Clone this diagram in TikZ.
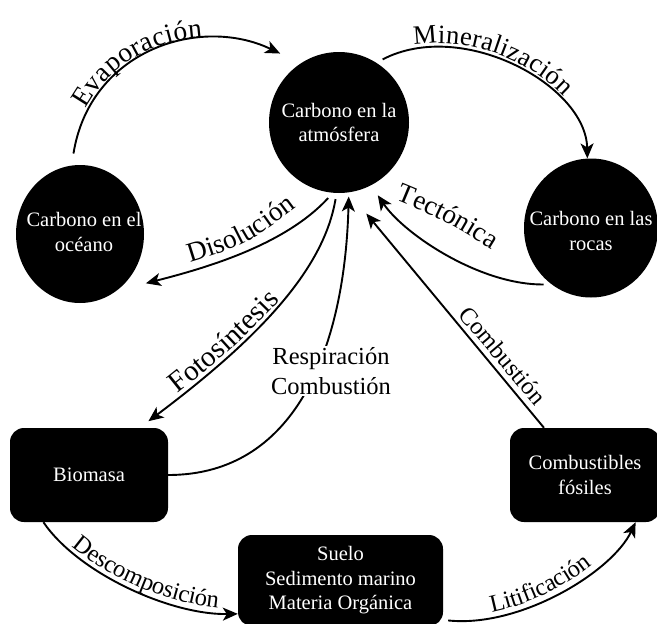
\documentclass[tikz,border=0pt]{standalone}
\usepackage{fontspec}
\setmainfont{Liberation Serif}
\usetikzlibrary{arrows.meta,shapes.geometric,decorations.text}
\newcommand\nodefont{\fontsize{20.5}{24.5}\selectfont}
\newcommand\lblfont{\fontsize{24.5}{30}\selectfont}
\newcommand\lblbig{\fontsize{27.5}{30}\selectfont}
\newcommand\lblmid{\fontsize{26.5}{30}\selectfont}
\newcommand\lblhuge{\fontsize{29}{30}\selectfont}
\begin{document}
\begin{tikzpicture}[x=1pt,y=-1pt,
  ell/.style={ellipse, fill=black, draw=none, inner sep=0pt},
  blk/.style={rectangle, rounded corners=14pt, fill=black, text=white, font=\nodefont, align=center, inner sep=0pt},
  intxt/.style={text=white, font=\nodefont, align=center, inner sep=0pt},
  flow/.style={line width=1.9pt, -{Stealth[length=15pt,width=13pt,inset=4pt]}},
]
\useasboundingbox (0,0) rectangle (657,624);

% nodes
\node[ell, minimum width=140pt, minimum height=141pt, label={[intxt]center:Carbono en la\\atmósfera}] (atm) at (339,122.5) {};
\node[ell, minimum width=128pt, minimum height=138pt, label={[intxt, xshift=4pt, yshift=2pt]center:Carbono en el\\océano}] (oce) at (80,234) {};
\node[ell, minimum width=134pt, minimum height=139pt, label={[intxt, yshift=-3pt]center:Carbono en las\\rocas}] (roc) at (591,228) {};
\node[blk, minimum width=158pt, minimum height=94pt] (bio) at (89,475) {Biomasa};
\node[blk, minimum width=150pt, minimum height=94pt] (fos) at (585,475) {Combustibles\\fósiles};
\node[blk, minimum width=205pt, minimum height=91pt] (sue) at (340.5,580.5) {Suelo\\Sedimento marino\\Materia Orgánica};

% connectors
\draw[flow, shorten <=12pt, shorten >=22.6pt] (oce.97) .. controls (90,50) and (200,15) .. (atm.123);
\draw[flow, shorten <=7pt] (atm.58) .. controls (462,18) and (586,85) .. (roc.93);
\draw[flow, shorten <=7pt, shorten >=30pt] (atm.-95) .. controls (285,245) and (206,268) .. (oce.-57);
\draw[flow, shorten <=6pt, shorten >=11pt] (atm.-92) .. controls (324,268) and (262,336) .. (bio.43);
\draw[flow, shorten >=4pt] (bio.east) .. controls (300,475) and (345,340) .. (atm.-82);
\draw[flow, shorten <=8pt, shorten >=12pt] (roc.-125) .. controls (480,285) and (404.4,234.4) .. (atm.-63.5);
\draw[flow, shorten >=27.4pt] (fos.131.8) -- (atm.-82);
\draw[flow] (bio.-134.4) .. controls (78,573) and (170,615) .. (sue.-162.9);
\draw[flow, shorten <=5pt] (sue.-21) .. controls (520,628) and (612,572) .. (fos.-43.8);

\node[fill=white, font=\lblfont, align=center, inner sep=1pt] (rc) at (331,371) {Respiración\\Combustión};

% labels along paths
\path[decorate, decoration={text along path, text={|\lblbig|Evaporación}, text align={left indent=57pt}, raise=5pt}] (oce.97) .. controls (90,50) and (200,15) .. (atm.123);
\path[decorate, decoration={text along path, text={|\lblmid|Mineralización}, text align={left indent=40pt}, raise=5pt}] (atm.58) .. controls (462,18) and (586,85) .. (roc.93);
\path[decorate, decoration={text along path, text={|\lblbig|Disolución}, text align=center}] (180,266) .. controls (245,246) .. (305,201);
\path[decorate, decoration={text along path, text={|\lblhuge|Fotosíntesis}, text align=center}] (161.4,406.5) .. controls (231,351) .. (294.6,285.5);
\path[decorate, decoration={text along path, text={|\lblbig|Tectónica}, text align=center}] (391,198) .. controls (444,220) .. (496,252);
\path[decorate, decoration={text along path, text={|\lblfont|Combustión}, text align=center}] (444.6,299.7) -- (548,421.7);
\path[decorate, decoration={text along path, text={|\lblfont|Descomposición}, text align={left indent=38pt}, raise=5pt}] (bio.-134.4) .. controls (78,573) and (170,615) .. (sue.-162.9);
\path[decorate, decoration={text along path, text={|\lblfont|Litificación}, text align={left indent=50pt}, raise=5pt}] (sue.-21) .. controls (520,628) and (612,572) .. (fos.-43.8);
\end{tikzpicture}
\end{document}
